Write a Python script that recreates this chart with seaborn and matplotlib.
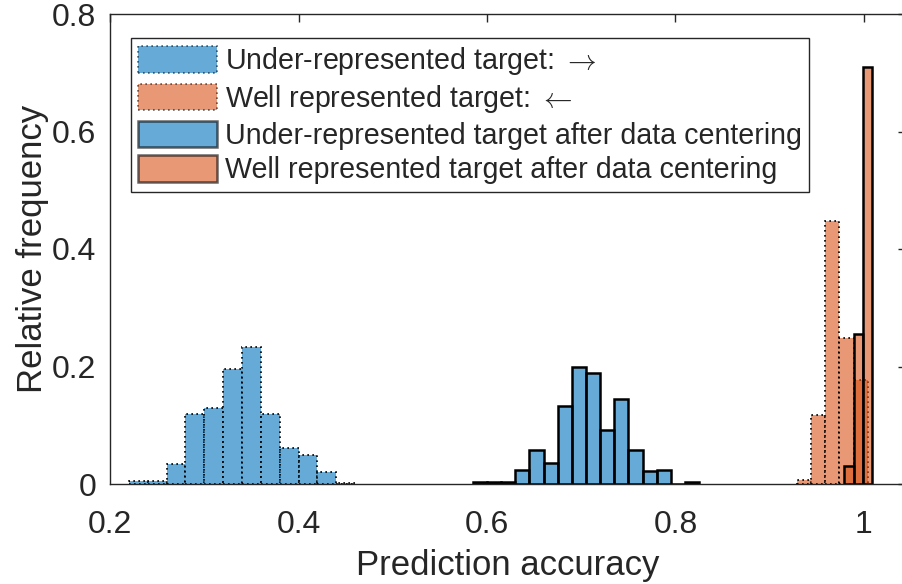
import matplotlib
matplotlib.use("Agg")
import matplotlib.pyplot as plt
from matplotlib.patches import Patch
import numpy as np
import pandas as pd
import seaborn as sns

# Relative frequency per bin for each prediction-accuracy distribution
under_edges = [0.22, 0.24, 0.26, 0.28, 0.30, 0.32, 0.34, 0.36, 0.38, 0.40, 0.42, 0.44, 0.46]
under_freq = [0.005, 0.005, 0.034, 0.119, 0.129, 0.196, 0.233, 0.119, 0.061, 0.049, 0.020, 0.002]

well_edges = [0.929, 0.944, 0.959, 0.974, 0.989, 1.004]
well_freq = [0.006, 0.117, 0.447, 0.248, 0.177]

under_c_edges = [0.585, 0.600, 0.615, 0.630, 0.645, 0.660, 0.675, 0.690, 0.705,
                 0.720, 0.735, 0.750, 0.765, 0.780, 0.795, 0.810, 0.825]
under_c_freq = [0.003, 0.004, 0.004, 0.024, 0.058, 0.035, 0.133, 0.200, 0.189,
                0.092, 0.145, 0.058, 0.022, 0.024, 0.0, 0.003]

well_c_edges = [0.979, 0.989, 0.999, 1.009]
well_c_freq = [0.031, 0.255, 0.709]

labels = [r"Under-represented target: $\rightarrow$",
          r"Well represented target: $\leftarrow$",
          "Under-represented target after data centering",
          "Well represented target after data centering"]

x_ticks = [0.2, 0.4, 0.6, 0.8, 1.0]
x_ticklabels = ["0.2", "0.4", "0.6", "0.8", "1"]
y_ticks = [0, 0.2, 0.4, 0.6, 0.8]
y_ticklabels = ["0", "0.2", "0.4", "0.6", "0.8"]

BLUE = (0.0, 0.447, 0.741)
ORANGE = (0.85, 0.325, 0.098)
AX_COL = (0.15, 0.15, 0.15)

sns.set_theme(style="white")
plt.rcParams["font.family"] = ["Liberation Sans", "DejaVu Sans"]
plt.rcParams["mathtext.fontset"] = "cm"

fig = plt.figure(figsize=(9.03, 5.84), dpi=100)
W, H = 903, 584
left, right, top, bottom = 110, 906, 14, 484
ax = fig.add_axes([left / W, 1 - bottom / H, (right - left) / W, (bottom - top) / H])


def draw(edges, freq, color, ls, lw):
    centers = [(a + b) / 2 for a, b in zip(edges[:-1], edges[1:])]
    df = pd.DataFrame({"acc": centers, "freq": freq})
    sns.histplot(data=df, x="acc", weights="freq", bins=list(edges), stat="count",
                 color=color, alpha=0.6, edgecolor="black", linestyle=ls,
                 linewidth=lw, ax=ax)


draw(under_edges, under_freq, BLUE, (0, (1, 2)), 1.2)
draw(well_edges, well_freq, ORANGE, (0, (1, 2)), 1.2)
draw(under_c_edges, under_c_freq, BLUE, "-", 1.8)
draw(well_c_edges, well_c_freq, ORANGE, "-", 1.8)

ax.set_xlim(0.2, 0.2 + (right - left) / 942.5)
ax.set_ylim(0, 0.8)
ax.set_xticks(x_ticks)
ax.set_xticklabels(x_ticklabels)
ax.set_yticks(y_ticks)
ax.set_yticklabels(y_ticklabels)
ax.tick_params(direction="in", length=6, width=1, colors=AX_COL,
               labelsize=23, top=True, right=True)
ax.tick_params(axis="x", pad=19)
ax.tick_params(axis="y", pad=10)
for s in ax.spines.values():
    s.set_color(AX_COL)
    s.set_linewidth(1.0)
    s.set_visible(True)

ax.set_xlabel("Prediction accuracy", fontsize=25, color=AX_COL, labelpad=6)
ax.set_ylabel("Relative frequency", fontsize=25, color=AX_COL, labelpad=2)

handles = [
    Patch(facecolor=BLUE, alpha=0.6, edgecolor="black", linestyle=(0, (1, 2)), linewidth=1.2),
    Patch(facecolor=ORANGE, alpha=0.6, edgecolor="black", linestyle=(0, (1, 2)), linewidth=1.2),
    Patch(facecolor=BLUE, alpha=0.6, edgecolor="black", linestyle="-", linewidth=1.8),
    Patch(facecolor=ORANGE, alpha=0.6, edgecolor="black", linestyle="-", linewidth=1.8),
]
leg = ax.legend(handles, labels, loc="upper left",
                bbox_to_anchor=((131 - left) / (right - left), (bottom - 38) / (bottom - top)),
                borderaxespad=0, fontsize=20.6, frameon=True, fancybox=False,
                handlelength=2.75, handleheight=1.05, handletextpad=0.3,
                labelspacing=0.2, borderpad=0.25)
leg.get_frame().set_edgecolor(AX_COL)
leg.get_frame().set_linewidth(1.0)
leg.get_frame().set_alpha(1)

fig.savefig("out.png", dpi=100)
